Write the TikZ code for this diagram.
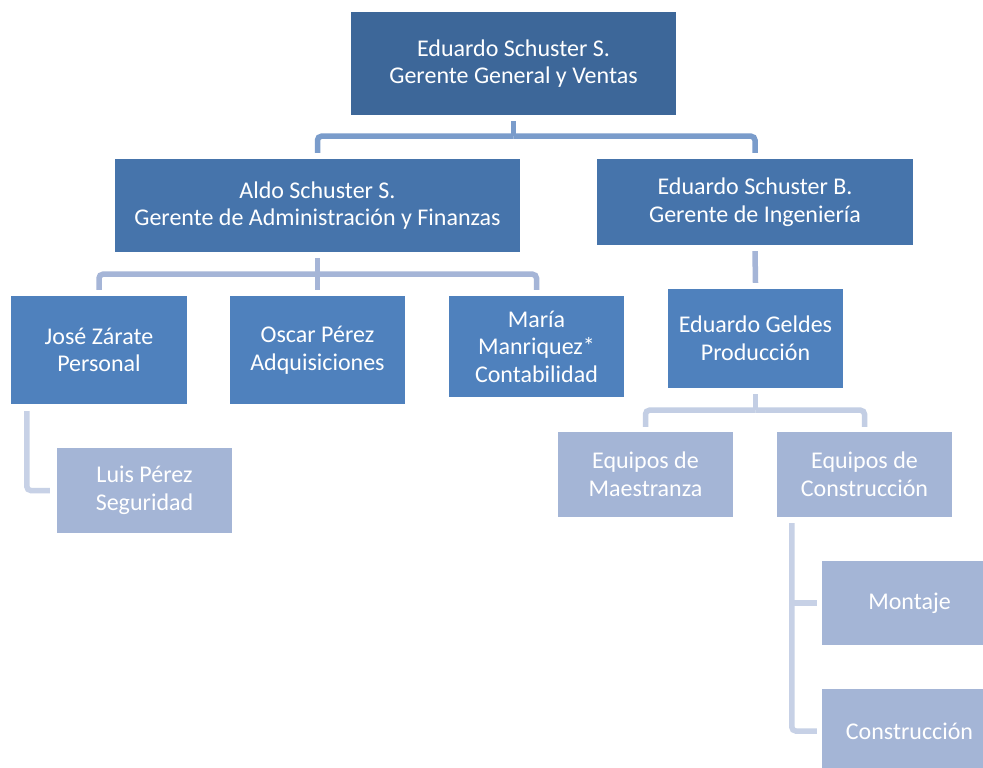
\documentclass[tikz,border=0pt]{standalone}
\usepackage{fontspec}
\setmainfont{Carlito}
\usetikzlibrary{calc}
\definecolor{boxA}{RGB}{61,103,153}
\definecolor{boxB}{RGB}{70,116,171}
\definecolor{boxC}{RGB}{79,129,189}
\definecolor{boxD}{RGB}{164,181,214}
\definecolor{lineA}{RGB}{122,156,203}
\definecolor{lineB}{RGB}{165,181,215}
\definecolor{lineC}{RGB}{195,206,228}
\definecolor{lineD}{RGB}{199,209,230}
\begin{document}
\begin{tikzpicture}[x=1pt,y=-1pt,
  box/.style={rectangle, draw=none, text=white, align=center, inner sep=0pt,
    font=\fontsize{24}{27.5}\selectfont},
  boxsize/.style 2 args={minimum width=#1, minimum height=#2},
  conn/.style={line width=5.5pt, rounded corners=4pt},
  connA/.style={conn, draw=lineA},
  connB/.style={conn, draw=lineB},
  connC/.style={conn, draw=lineC},
  connD/.style={conn, draw=lineD}]
\clip (0,0) rectangle (983,768);
\fill[white] (0,0) rectangle (983,768);

% boxes
\node[box, fill=boxA, boxsize={325}{103}] (top) at (513.5,63.5)
  {Eduardo Schuster S.\\Gerente General y Ventas};
\node[box, fill=boxB, boxsize={405}{93}] (aldo) at (317.5,205.5)
  {Aldo Schuster S.\\Gerente de Administración y Finanzas};
\node[box, fill=boxB, boxsize={316}{86}] (edb) at (755,202)
  {Eduardo Schuster B.\\Gerente de Ingeniería};
\node[box, fill=boxC, boxsize={176}{108}] (jose) at (99,350)
  {José Zárate\\Personal};
\node[box, fill=boxC, boxsize={175}{108}] (oscar) at (317.5,350)
  {Oscar Pérez\\Adquisiciones};
\node[box, fill=boxC, boxsize={175}{101}] (maria) at (536.5,346.5)
  {María\\Manriquez*\\Contabilidad};
\node[box, fill=boxC, boxsize={175}{99}] (geldes) at (755.5,338.5)
  {Eduardo Geldes\\Producción};
\node[box, fill=boxD, boxsize={175}{85}] (luis) at (144.5,490.5)
  {Luis Pérez\\Seguridad};
\node[box, fill=boxD, boxsize={175}{85}] (maes) at (645.5,474.5)
  {Equipos de\\Maestranza};
\node[box, fill=boxD, boxsize={175}{85}] (cons) at (864.5,474.5)
  {Equipos de\\Construcción};
\node[box, fill=boxD, boxsize={175}{84}] (mont) at (909.5,603)
  {Montaje};
\node[box, fill=boxD, boxsize={175}{84}] (cons2) at (909.5,731)
  {Construcción};

% connectors: general manager to the two managers
\coordinate (j1) at ($(top.south)+(0,21)$);
\draw[connA] ($(top.south)+(0,6)$) -- (j1);
\draw[connA] (j1) -| ($(aldo.north)+(0,-6)$);
\draw[connA] (j1) -| ($(edb.north)+(0,-6)$);

% administration and finance
\coordinate (j2) at ($(aldo.south)+(0,22)$);
\draw[connB] ($(aldo.south)+(0,6)$) -- ($(oscar.north)+(0,-6)$);
\draw[connB] (j2) -| ($(jose.north)+(0,-6)$);
\draw[connB] (j2) -| ($(maria.north)+(0,-6)$);

% engineering
\draw[connB] ($(edb.south)+(0,6)$) -- ($(geldes.north)+(0,-6)$);

% production
\coordinate (j3) at ($(geldes.south)+(0,22)$);
\draw[connC] ($(geldes.south)+(0,6)$) -- (j3);
\draw[connC] (j3) -| ($(maes.north)+(0,-5)$);
\draw[connC] (j3) -| ($(cons.north)+(0,-5)$);

% side branches
\draw[connD] ($(jose.south west)+(16,7)$) |- ($(luis.west)+(-7,0)$);
\coordinate (j4) at ($(cons.south west)+(15,6)$);
\draw[connD] (j4) |- ($(cons2.west)+(-5,0)$);
\draw[connD] (j4 |- mont.west) -- ($(mont.west)+(-5,0)$);
\end{tikzpicture}
\end{document}
